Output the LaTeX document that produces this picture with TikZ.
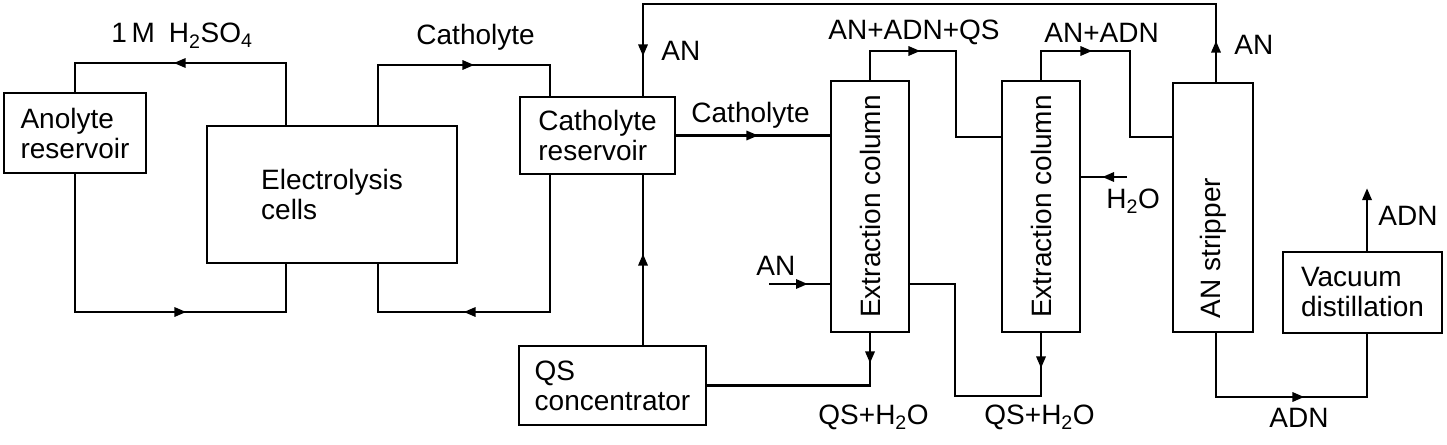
\documentclass[tikz,border=0pt]{standalone}
\usepackage{fontspec}
\usepackage{graphicx}
\setmainfont{Liberation Sans}
\usetikzlibrary{arrows.meta,decorations.markings,calc}
\begin{document}
\begin{tikzpicture}[x=1pt,y=-1pt,
  line width=2.9pt,
  every node/.style={font=\fontsize{28}{30}\selectfont},
  box/.style={draw,rectangle,inner sep=0pt,align=left},
  lbl/.style={anchor=base west,inner sep=0pt},
  tipA/.tip={Triangle[length=12pt,width=9pt]},
  arrowat/.style={postaction={decorate},decoration={markings,mark=at position #1 with {\arrow{tipA}}}},
  arrowtwo/.style 2 args={postaction={decorate},decoration={markings,mark=at position #1 with {\arrow{tipA}},mark=at position #2 with {\arrow{tipA}}}},
  endarrow/.style={-{tipA}}
]
\useasboundingbox (0,0) rectangle (1447,444);

% boxes
\node[box,minimum width=142pt,minimum height=80pt] (anol) at (75,133) {Anolyte\\reservoir};
\node[box,minimum width=250pt,minimum height=137pt] (elec) at (332,194.5) {Electrolysis\\cells};
\node[box,minimum width=155pt,minimum height=77pt] (cathres) at (597.5,135.5) {Catholyte\\reservoir};
\node[box,minimum width=187pt,minimum height=79pt] (qs) at (612.5,385.5) {QS\\concentrator};
\node[box,minimum width=78pt,minimum height=251pt] (col1) at (870,206.5) {\rotatebox{90}{Extraction column}};
\node[box,minimum width=78pt,minimum height=251pt] (col2) at (1041,206.5) {\rotatebox{90}{Extraction column}};
\node[box,minimum width=80pt,minimum height=249pt] (strip) at (1213,207.5) {\rotatebox{90}{\makebox[221pt][l]{AN stripper}}};
\node[box,minimum width=159pt,minimum height=81pt] (vac) at (1362.5,292.5) {Vacuum\\distillation};

% helper corners
\coordinate (aT) at (286,63);
\coordinate (aB) at (286,312);
\coordinate (cT) at (550,65);
\coordinate (cTL) at (378,65);
\coordinate (cB) at (550,312);
\coordinate (cBL) at (378,312);
\coordinate (rT) at (643,4);
\coordinate (rT2) at (1216,4);
\coordinate (anin) at (769,284);
\coordinate (k1) at (956,51);
\coordinate (k1b) at (956,137);
\coordinate (k2) at (955,396);
\coordinate (k3) at (1130,51);
\coordinate (h2o) at (1127,177);
\coordinate (k4) at (1367,397);
\coordinate (adn) at (1367,188);

% connectors
\draw[arrowat=174pt] (elec.north -| aT) -- (aT) -- (aT -| anol.north) -- (anol.north);
\draw[arrowat=249pt] (anol.south) -- (anol.south |- aB) -- (aB) -- (elec.south -| aB);
\draw[arrowat=156pt] (elec.north -| cTL) -- (cTL) -- (cT) -- (cathres.north -| cT);
\draw[arrowat=223pt] (cathres.south -| cB) -- (cB) -- (cBL) -- (elec.south -| cBL);
\draw[arrowtwo={41pt}{703pt}] (strip.north -| rT2) -- (rT2) -- (rT) -- (cathres.north -| rT);
\draw[arrowat=82pt] (cathres.east) -- (cathres.east -| col1.west);
\draw[arrowat=91pt] (qs.north -| rT) -- (cathres.south -| rT);
\draw[arrowat=39pt] (anin) -- (anin -| col1.west);
\draw[arrowat=30pt] (col1.south) -- (col1.south |- qs.east) -- (qs.east);
\draw[arrowat=79pt] (col1.north) -- (col1.north |- k1) -- (k1) -- (k1b) -- (k1b -| col2.west);
\draw[arrowat=35pt] (col2.south) -- (col2.south |- k2) -- (k2) -- (k2 |- anin) -- (anin -| col1.east);
\draw[arrowat=80pt] (col2.north) -- (col2.north |- k3) -- (k3) -- (k3 |- k1b) -- (k1b -| strip.west);
\draw[arrowat=25pt] (h2o) -- (h2o -| col2.east);
\draw[arrowat=152pt] (strip.south -| rT2) -- (rT2 |- k4) -- (k4) -- (k4 |- vac.south);
\draw[endarrow] (vac.north -| adn) -- (adn);

% labels
\node[lbl] (l1) at (110,43) {1\,M\enspace H\textsubscript{2}SO\textsubscript{4}};
\node[lbl] (l2) at (415,45) {Catholyte};
\node[lbl] (l3) at (660,60) {AN};
\node[lbl] (l4) at (690,122) {Catholyte};
\node[lbl] (l5) at (827,40) {AN+ADN+QS};
\node[lbl] (l6) at (1043,43) {AN+ADN};
\node[lbl] (l7) at (1233,55) {AN};
\node[lbl] (l8) at (755,275) {AN};
\node[lbl] (l9) at (1105,208) {H\textsubscript{2}O};
\node[lbl] (l10) at (1377,225) {ADN};
\node[lbl] (l11) at (817,424) {QS+H\textsubscript{2}O};
\node[lbl] (l12) at (983,424) {QS+H\textsubscript{2}O};
\node[lbl] (l13) at (1268,427) {ADN};
\end{tikzpicture}
\end{document}
